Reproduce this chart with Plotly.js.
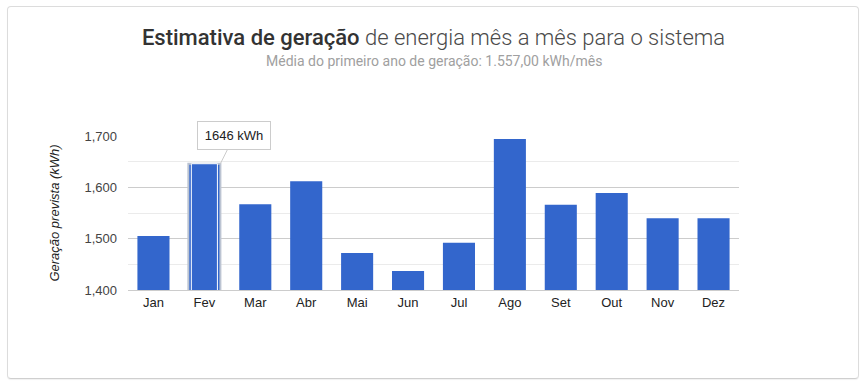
<!DOCTYPE html>
<html>
<head>
<meta charset="utf-8">
<script src="https://cdn.plot.ly/plotly-3.0.1.min.js"></script>
<style>
  html, body { margin:0; padding:0; background:#fff; }
  #card { position:absolute; left:7px; top:6px; width:850px; height:371px;
          border:1px solid #dcdcdc; border-bottom-color:#cfcfcf; border-radius:4px;
          box-shadow:0 1px 1px rgba(0,0,0,0.06); }
  #chart { position:absolute; left:0; top:0; width:866px; height:386px; }
</style>
</head>
<body>
<div id="card"></div>
<div id="chart"></div>
<script>
const months = ['Jan','Fev','Mar','Abr','Mai','Jun','Jul','Ago','Set','Out','Nov','Dez'];
const generation = [1505, 1646, 1567, 1612, 1472, 1437, 1492, 1694, 1566, 1589, 1540, 1540];
const highlightIndex = 1;
const yTicks = [1400, 1500, 1600, 1700];
const titleBold = 'Estimativa de geração';
const titleRest = ' de energia mês a mês para o sistema';
const subtitle = 'Média do primeiro ano de geração: 1.557,00 kWh/mês';
const yTitle = 'Geração prevista (kWh)';
const unit = 'kWh';

const blue = '#3366cc';
const barWidth = 0.63;

const lineWidths = generation.map((v, i) => i === highlightIndex ? 2 : 0);
const lineColors = generation.map((v, i) => i === highlightIndex ? '#bcc4d2' : blue);

const main = {
  type: 'bar', x: months, y: generation, width: barWidth,
  marker: { color: blue, line: { width: lineWidths, color: lineColors } },
  hoverinfo: 'none', showlegend: false
};
const hl = {
  type: 'bar', x: months,
  y: generation.map((v, i) => i === highlightIndex ? v : null),
  width: barWidth - 6 / 51,
  marker: { color: blue, line: { width: 1, color: '#ffffff' } },
  hoverinfo: 'none', showlegend: false
};

const layout = {
  width: 866, height: 386,
  paper_bgcolor: 'rgba(0,0,0,0)', plot_bgcolor: 'rgba(0,0,0,0)',
  margin: { l: 127.5, r: 126.5, t: 136, b: 96 },
  barmode: 'overlay',
  font: { family: 'Arial, "Liberation Sans", sans-serif', size: 13, color: '#444' },
  title: {
    text: '<span style="font-weight:500;color:#333">' + titleBold + '</span><span style="font-weight:300;color:#4a4a4a">' + titleRest + '</span>',
    font: { family: 'Roboto', size: 22, color: '#333' },
    x: 0.5, xref: 'paper', xanchor: 'center',
    y: 1 - 37 / 386, yref: 'container', yanchor: 'middle'
  },
  xaxis: {
    type: 'category', showgrid: false, ticks: '', showline: true, linecolor: '#cccccc',
    tickfont: { size: 13, color: '#222' }, fixedrange: true
  },
  yaxis: {
    range: [1400, 1700], tickvals: yTicks, tickformat: ',d',
    showgrid: true, gridcolor: '#cccccc', zeroline: false, ticks: '',
    ticklabelstandoff: 10, tickfont: { size: 13, color: '#444' },
    minor: { dtick: 50, showgrid: true, gridcolor: '#ebebeb', ticks: '' }
  },
  annotations: [
    {
      text: subtitle, xref: 'paper', yref: 'paper', x: 0.5,
      y: 1 + (136 - 61) / 154, xanchor: 'center', yanchor: 'middle', showarrow: false,
      font: { family: 'Roboto', size: 14, color: '#a0a0a0' }
    },
    {
      text: '<i>' + yTitle + '</i>', xref: 'paper', yref: 'paper',
      x: (53 - 127.5) / 612, y: 0.5, xanchor: 'center', yanchor: 'middle',
      textangle: -90, showarrow: false, font: { size: 13, color: '#222' }
    },
    {
      text: generation[highlightIndex] + ' ' + unit,
      x: months[highlightIndex], y: generation[highlightIndex], xref: 'x', yref: 'y',
      xshift: 16, showarrow: true, arrowhead: 0, arrowwidth: 1, arrowcolor: '#cccccc',
      ax: 14, ay: -28, bgcolor: '#ffffff', bordercolor: '#cccccc', borderwidth: 1,
      borderpad: 6, width: 60, height: 15,
      font: { size: 13, color: '#222' }
    }
  ]
};

Plotly.newPlot('chart', [main, hl], layout, { displayModeBar: false, staticPlot: true });
</script>
</body>
</html>
